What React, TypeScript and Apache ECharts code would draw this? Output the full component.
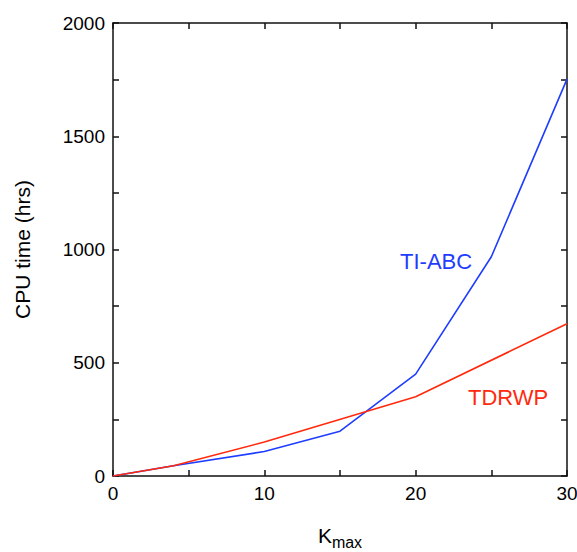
import React, { useEffect, useRef } from "react";
import * as echarts from "echarts";

const kmax = [0, 4, 10, 15, 20, 25, 30];
const tiAbc = [0, 45, 108, 198, 450, 968, 1752];
const tdrwpK = [0, 4, 10, 20, 30];
const tdrwp = [0, 45, 150, 350, 672];
const xTicks = [0, 10, 20, 30];
const yTicks = [0, 500, 1000, 1500, 2000];

const BLUE = "#1f3dff";
const RED = "#ff2a0d";
const FONT = "'Liberation Sans', Arial, Helvetica, sans-serif";

export default function App() {
  const ref = useRef<HTMLDivElement>(null);
  useEffect(() => {
    if (!ref.current) return;
    const chart = echarts.init(ref.current, undefined, { renderer: "svg" });
    const axisLine = { show: true, onZero: false, lineStyle: { color: "#111", width: 1.5 } };
    const tick = { show: true, inside: true, length: 6, lineStyle: { color: "#111", width: 1.5 } };
    const minor = { show: true, splitNumber: 2, length: 6, lineStyle: { color: "#111", width: 1.5 } };
    const fmt = (v: number) => String(v);
    const xBase = {
      type: "value" as const,
      min: xTicks[0],
      max: xTicks[xTicks.length - 1],
      interval: xTicks[1] - xTicks[0],
      splitLine: { show: false },
      minorSplitLine: { show: false },
    };
    const yBase = {
      type: "value" as const,
      min: yTicks[0],
      max: yTicks[yTicks.length - 1],
      interval: yTicks[1] - yTicks[0],
      splitLine: { show: false },
      minorSplitLine: { show: false },
    };
    const frame = { axisLine, axisTick: tick, minorTick: minor, axisLabel: { show: false } };
    const labelOnly = {
      axisLine: { show: false, onZero: false },
      axisTick: { show: false },
      minorTick: { show: false },
    };
    chart.setOption({
      animation: false,
      grid: { left: 113, right: 10, top: 23, bottom: 76, containLabel: false, outerBoundsMode: "none" },
      xAxis: [
        { ...xBase, ...frame, position: "bottom" },
        { ...xBase, ...frame, position: "top" },
        {
          ...xBase,
          ...labelOnly,
          position: "bottom",
          axisLabel: { show: true, color: "#000", fontSize: 19, fontFamily: FONT, margin: 8, formatter: fmt },
          name: "{a|K}{b|max}",
          nameLocation: "middle",
          nameGap: 49,
          nameTextStyle: {
            color: "#000",
            fontFamily: FONT,
            rich: {
              a: { fontSize: 21, fontFamily: FONT, color: "#000", verticalAlign: "top" },
              b: { fontSize: 16, fontFamily: FONT, color: "#000", padding: [9, 0, 0, 0], verticalAlign: "top" },
            },
          },
        },
      ],
      yAxis: [
        { ...yBase, ...frame, position: "left" },
        { ...yBase, ...frame, position: "right" },
        {
          ...yBase,
          ...labelOnly,
          position: "left",
          axisLabel: { show: true, color: "#000", fontSize: 19, fontFamily: FONT, margin: 8, formatter: fmt },
          name: "CPU time (hrs)",
          nameLocation: "middle",
          nameGap: 80,
          nameRotate: 90,
          nameTextStyle: { color: "#000", fontSize: 21, fontFamily: FONT },
        },
      ],
      series: [
        {
          name: "TI-ABC",
          type: "line",
          xAxisIndex: 0,
          yAxisIndex: 0,
          data: kmax.map((k, i) => [k, tiAbc[i]]),
          showSymbol: false,
          symbol: "none",
          lineStyle: { color: BLUE, width: 1.6 },
          z: 3,
        },
        {
          name: "TDRWP",
          type: "line",
          xAxisIndex: 0,
          yAxisIndex: 0,
          data: tdrwpK.map((k, i) => [k, tdrwp[i]]),
          showSymbol: false,
          symbol: "none",
          lineStyle: { color: RED, width: 1.6 },
          z: 4,
        },
      ],
      graphic: [
        {
          type: "text",
          left: 400,
          top: 250,
          style: { text: "TI-ABC", fill: BLUE, fontSize: 22, fontFamily: FONT },
        },
        {
          type: "text",
          left: 468,
          top: 386,
          style: { text: "TDRWP", fill: RED, fontSize: 22, fontFamily: FONT },
        },
      ],
    });
    return () => chart.dispose();
  }, []);
  return <div ref={ref} style={{ width: 577, height: 552, position: "absolute", left: 0, top: 0 }} />;
}
